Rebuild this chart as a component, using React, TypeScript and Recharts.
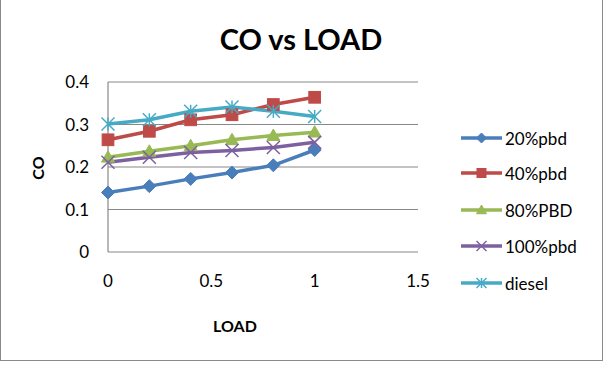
import React from "react";
import { LineChart, Line, XAxis, YAxis, CartesianGrid } from "recharts";

// Load fraction on the x axis
const loads = [0, 0.2, 0.4, 0.6, 0.8, 1];

// CO readings per blend
const pbd20 = [0.14, 0.155, 0.172, 0.187, 0.204, 0.24];
const pbd40 = [0.264, 0.284, 0.311, 0.323, 0.347, 0.364];
const pbd80 = [0.223, 0.237, 0.25, 0.264, 0.274, 0.282];
const pbd100 = [0.211, 0.223, 0.234, 0.239, 0.246, 0.258];
const diesel = [0.301, 0.311, 0.331, 0.341, 0.331, 0.319];

const xTicks = [0, 0.5, 1, 1.5];
const yTicks = [0, 0.1, 0.2, 0.3, 0.4];

type Shape = "diamond" | "square" | "triangle" | "cross" | "star";

const series: { key: string; name: string; color: string; shape: Shape; values: number[] }[] = [
  { key: "s20", name: "20%pbd", color: "#4A7EBB", shape: "diamond", values: pbd20 },
  { key: "s40", name: "40%pbd", color: "#BE4B48", shape: "square", values: pbd40 },
  { key: "s80", name: "80%PBD", color: "#98B954", shape: "triangle", values: pbd80 },
  { key: "s100", name: "100%pbd", color: "#7D60A0", shape: "cross", values: pbd100 },
  { key: "sd", name: "diesel", color: "#46AAC5", shape: "star", values: diesel },
];

const rows = loads.map((x, i) => {
  const r: Record<string, number> = { x };
  series.forEach((s) => (r[s.key] = s.values[i]));
  return r;
});

const FONT = "Lato, 'Open Sans', sans-serif";

function Marker({ cx, cy, shape, color, size }: { cx: number; cy: number; shape: Shape; color: string; size: number }) {
  const h = size / 2;
  switch (shape) {
    case "diamond":
      return <polygon points={`${cx},${cy - h} ${cx + h},${cy} ${cx},${cy + h} ${cx - h},${cy}`} fill={color} stroke={color} />;
    case "square":
      return <rect x={cx - h * 0.9} y={cy - h * 0.9} width={h * 1.8} height={h * 1.8} fill={color} stroke={color} />;
    case "triangle":
      return <polygon points={`${cx},${cy - h} ${cx + h},${cy + h * 0.75} ${cx - h},${cy + h * 0.75}`} fill={color} stroke={color} />;
    case "cross":
      return (
        <g stroke={color} strokeWidth={1.5}>
          <line x1={cx - h} y1={cy - h} x2={cx + h} y2={cy + h} />
          <line x1={cx - h} y1={cy + h} x2={cx + h} y2={cy - h} />
        </g>
      );
    case "star":
      return (
        <g stroke={color} strokeWidth={1.5}>
          <line x1={cx - h} y1={cy - h} x2={cx + h} y2={cy + h} />
          <line x1={cx - h} y1={cy + h} x2={cx + h} y2={cy - h} />
          <line x1={cx} y1={cy - h} x2={cx} y2={cy + h} />
        </g>
      );
  }
  return null;
}

const legendTop = [138, 173, 210, 246, 283];

export default function App() {
  return (
    <div style={{ position: "absolute", left: 0, top: 0, width: 607, height: 366, background: "#fff", fontFamily: FONT }}>
      <div
        style={{
          position: "absolute",
          left: 0,
          top: -2,
          width: 603,
          height: 363,
          border: "1.5px solid #8a8a8a",
          boxSizing: "border-box",
        }}
      />
      <LineChart width={607} height={366} data={rows} margin={{ top: 82, right: 189, bottom: 84, left: 0 }}>
        <CartesianGrid vertical={false} stroke="#888" strokeWidth={1.2} />
        <XAxis
          dataKey="x"
          type="number"
          domain={[0, 1.5]}
          ticks={xTicks}
          axisLine={false}
          tickLine={false}
          tickSize={0}
          tickMargin={23}
          height={30}
          tick={{ fill: "#000", fontSize: 17, fontFamily: FONT }}
        />
        <YAxis
          type="number"
          domain={[0, 0.4]}
          ticks={yTicks}
          width={108}
          axisLine={{ stroke: "#888", strokeWidth: 1.2 }}
          tickLine={false}
          tickSize={0}
          tickMargin={19}
          tick={{ fill: "#000", fontSize: 17, fontFamily: FONT }}
        />
        {series.map((s) => (
          <Line
            key={s.key}
            dataKey={s.key}
            name={s.name}
            stroke={s.color}
            strokeWidth={3.5}
            isAnimationActive={false}
            dot={(p: any) => <Marker key={`${s.key}-${p.index}`} cx={p.cx} cy={p.cy} shape={s.shape} color={s.color} size={13} />}
          />
        ))}
      </LineChart>
      <svg style={{ position: "absolute", left: 0, top: 0 }} width={607} height={366}>
        <text x={301} y={38} textAnchor="middle" dominantBaseline="central" fontFamily={FONT} fontWeight="bold" fontSize={29} fill="#000">
          CO vs LOAD
        </text>
        <text x={235} y={325} textAnchor="middle" dominantBaseline="central" fontFamily={FONT} fontWeight="bold" fontSize={16} fill="#000">
          LOAD
        </text>
        <text
          x={37}
          y={168}
          textAnchor="middle"
          dominantBaseline="central"
          fontFamily={FONT}
          fontWeight="bold"
          fontSize={16}
          fill="#000"
          transform="rotate(-90 37 168)"
        >
          CO
        </text>
        {series.map((s, i) => (
          <g key={s.key}>
            <line x1={461} x2={502} y1={legendTop[i]} y2={legendTop[i]} stroke={s.color} strokeWidth={3.5} />
            <Marker cx={481.5} cy={legendTop[i]} shape={s.shape} color={s.color} size={10} />
            <text x={505} y={legendTop[i]} dominantBaseline="central" fontFamily={FONT} fontSize={17} fill="#000">
              {s.name}
            </text>
          </g>
        ))}
      </svg>
    </div>
  );
}
